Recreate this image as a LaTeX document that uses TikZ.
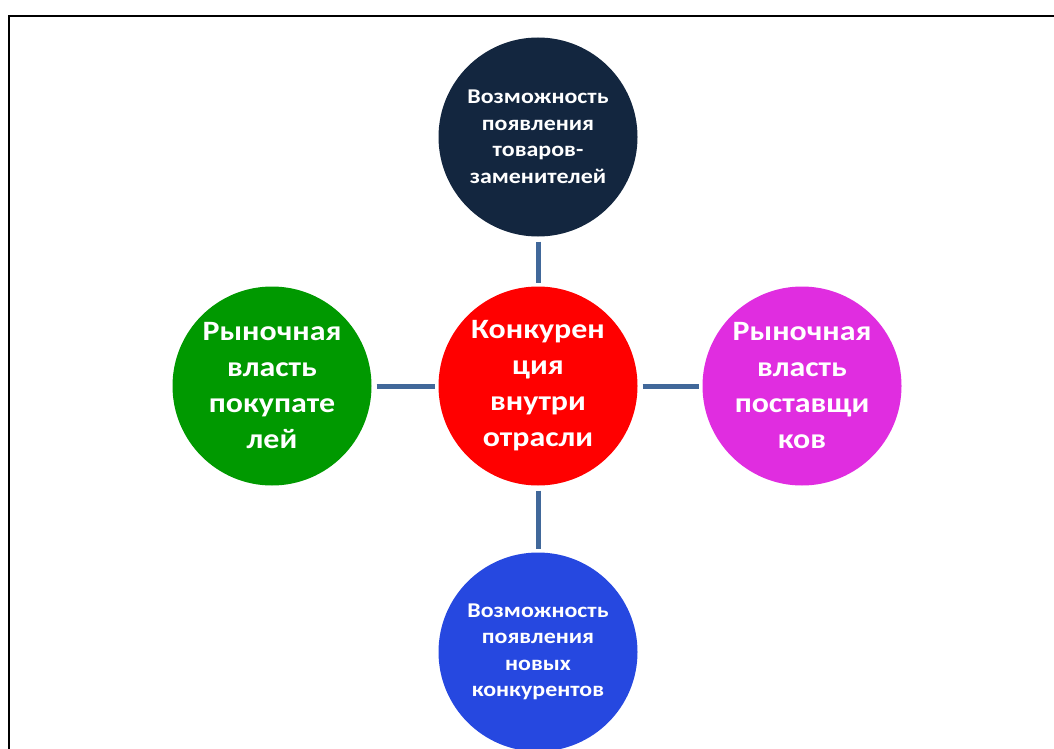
\documentclass[tikz,border=0pt]{standalone}
\usepackage{fontspec}
\setmainfont{Carlito}[FakeStretch=1.14]
\definecolor{navy}{HTML}{13263F}
\definecolor{cred}{HTML}{FF0000}
\definecolor{cgreen}{HTML}{009900}
\definecolor{cmag}{HTML}{E02DE0}
\definecolor{cblue}{HTML}{2648E0}
\definecolor{conn}{HTML}{41689A}
\begin{document}
\begin{tikzpicture}[x=1pt,y=-1pt,
  bub/.style={circle,minimum size=199pt,inner sep=0pt,text=white,align=center,font=\bfseries},
  small/.style={font=\fontsize{21}{26.5}\selectfont\bfseries},
  big/.style={font=\fontsize{28}{36}\selectfont\bfseries},
  link/.style={draw=conn,line width=5pt,shorten <=5pt,shorten >=3pt}]
\useasboundingbox (0,0) rectangle (1054,749);
\fill[white] (0,0) rectangle (1054,749);
\draw[line width=1.5pt] (9,749) -- (9,16) -- (1054,16);
\node[bub,fill=navy,small] (top) at (538,137) {Возможность\\появления\\товаров-\\заменителей};
\node[bub,fill=cred,big] (mid) at (538,386) {Конкурен\\ция\\внутри\\отрасли};
\node[bub,fill=cgreen,big] (left) at (272,386) {Рыночная\\власть\\покупате\\лей};
\node[bub,fill=cmag,big] (right) at (802,386) {Рыночная\\власть\\поставщи\\ков};
\node[bub,fill=cblue,small] (bot) at (538,652) {Возможность\\появления\\новых\\конкурентов};
\draw[link] (top) -- (mid);
\draw[link] (mid) -- (bot);
\draw[link] (left) -- (mid);
\draw[link] (mid) -- (right);
\end{tikzpicture}
\end{document}
